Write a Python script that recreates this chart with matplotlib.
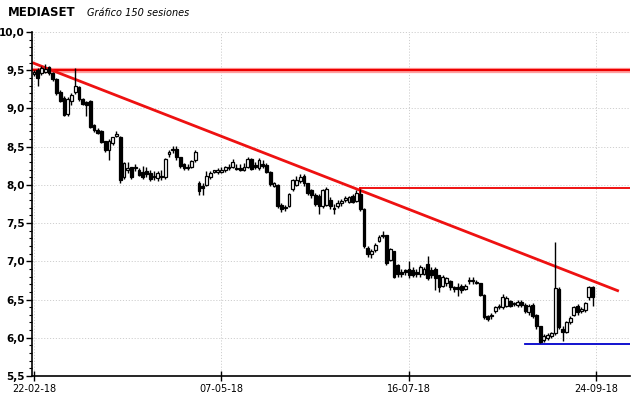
import numpy as np
import matplotlib.pyplot as plt
from matplotlib.ticker import MultipleLocator, FuncFormatter

# OHLC (150 sesiones)
opens = [9.45, 9.50, 9.46, 9.48, 9.54, 9.46, 9.38, 9.22, 9.14, 8.93,
         9.10, 9.21, 9.28, 9.12, 9.08, 9.10, 8.78, 8.72, 8.70, 8.57,
         8.45, 8.55, 8.64, 8.63, 8.10, 8.20, 8.23, 8.22, 8.19, 8.17,
         8.18, 8.16, 8.12, 8.09, 8.12, 8.10, 8.40, 8.45, 8.47, 8.36,
         8.27, 8.22, 8.24, 8.33, 8.03, 7.99, 8.00, 8.10, 8.17, 8.17,
         8.17, 8.19, 8.22, 8.24, 8.22, 8.22, 8.20, 8.24, 8.34, 8.26,
         8.22, 8.27, 8.26, 8.17, 7.99, 8.00, 7.74, 7.71, 7.73, 7.94,
         8.00, 8.05, 8.12, 8.02, 7.93, 7.87, 7.85, 7.72, 7.74, 7.80,
         7.70, 7.72, 7.76, 7.80, 7.78, 7.85, 7.79, 7.88, 7.69, 7.18,
         7.10, 7.15, 7.27, 7.33, 7.34, 7.02, 7.13, 6.95, 6.86, 6.88,
         6.90, 6.88, 6.86, 6.83, 6.84, 6.97, 6.88, 6.90, 6.82, 6.68,
         6.72, 6.74, 6.66, 6.66, 6.68, 6.64, 6.74, 6.74, 6.72, 6.71,
         6.56, 6.28, 6.29, 6.35, 6.40, 6.40, 6.42, 6.48, 6.45, 6.43,
         6.47, 6.43, 6.34, 6.43, 6.30, 6.15, 5.97, 6.00, 6.02, 6.06,
         6.64, 6.12, 6.08, 6.20, 6.30, 6.42, 6.35, 6.36, 6.53, 6.66]
highs = [9.50, 9.53, 9.55, 9.58, 9.56, 9.48, 9.40, 9.24, 9.16, 9.15,
         9.20, 9.53, 9.30, 9.14, 9.10, 9.11, 8.80, 8.74, 8.72, 8.58,
         8.60, 8.63, 8.70, 8.64, 8.30, 8.30, 8.24, 8.27, 8.22, 8.25,
         8.24, 8.19, 8.18, 8.18, 8.20, 8.35, 8.45, 8.51, 8.51, 8.37,
         8.29, 8.27, 8.33, 8.45, 8.05, 8.02, 8.18, 8.18, 8.20, 8.22,
         8.24, 8.25, 8.27, 8.34, 8.27, 8.27, 8.28, 8.36, 8.35, 8.30,
         8.35, 8.33, 8.28, 8.18, 8.04, 8.01, 7.76, 7.74, 7.90, 8.08,
         8.11, 8.14, 8.14, 8.03, 7.95, 7.90, 7.88, 7.95, 7.97, 7.84,
         7.75, 7.80, 7.82, 7.86, 7.86, 7.88, 7.93, 7.95, 7.70, 7.20,
         7.16, 7.24, 7.35, 7.40, 7.35, 7.18, 7.14, 6.97, 6.90, 6.90,
         7.00, 6.92, 6.90, 6.95, 6.93, 7.07, 6.92, 6.92, 6.82, 6.82,
         6.80, 6.76, 6.68, 6.72, 6.70, 6.70, 6.79, 6.79, 6.76, 6.72,
         6.57, 6.30, 6.33, 6.42, 6.44, 6.57, 6.55, 6.50, 6.47, 6.49,
         6.50, 6.45, 6.44, 6.45, 6.31, 6.16, 6.05, 6.06, 6.08, 7.25,
         6.66, 6.15, 6.22, 6.28, 6.42, 6.44, 6.40, 6.47, 6.68, 6.68]
lows = [9.42, 9.30, 9.44, 9.46, 9.44, 9.36, 9.18, 9.08, 8.90, 8.90,
        9.05, 9.19, 9.10, 9.04, 8.90, 8.74, 8.69, 8.66, 8.55, 8.43,
        8.32, 8.52, 8.62, 8.03, 8.08, 8.15, 8.08, 8.18, 8.11, 8.08,
        8.10, 8.05, 8.06, 8.05, 8.06, 8.08, 8.36, 8.42, 8.33, 8.22,
        8.19, 8.20, 8.22, 8.30, 7.87, 7.87, 7.98, 8.08, 8.15, 8.14,
        8.16, 8.17, 8.19, 8.22, 8.19, 8.18, 8.18, 8.22, 8.20, 8.21,
        8.20, 8.22, 8.15, 7.99, 7.97, 7.70, 7.65, 7.66, 7.71, 7.92,
        7.98, 8.03, 7.98, 7.87, 7.83, 7.72, 7.62, 7.70, 7.72, 7.68,
        7.62, 7.70, 7.73, 7.78, 7.76, 7.76, 7.78, 7.66, 7.17, 7.06,
        7.05, 7.12, 7.25, 7.30, 6.95, 7.00, 6.78, 6.80, 6.80, 6.82,
        6.78, 6.80, 6.80, 6.80, 6.82, 6.76, 6.78, 6.62, 6.60, 6.66,
        6.68, 6.62, 6.60, 6.55, 6.58, 6.62, 6.70, 6.70, 6.70, 6.55,
        6.24, 6.22, 6.24, 6.33, 6.37, 6.38, 6.40, 6.40, 6.42, 6.40,
        6.40, 6.33, 6.30, 6.26, 6.12, 5.93, 5.95, 5.97, 6.00, 6.03,
        6.12, 5.96, 6.06, 6.18, 6.28, 6.30, 6.33, 6.34, 6.50, 6.42]
closes = [9.48, 9.40, 9.53, 9.52, 9.46, 9.38, 9.20, 9.10, 8.92, 9.12,
          9.18, 9.29, 9.12, 9.06, 9.04, 8.76, 8.72, 8.68, 8.56, 8.45,
          8.58, 8.62, 8.66, 8.07, 8.28, 8.22, 8.10, 8.24, 8.13, 8.10,
          8.14, 8.08, 8.10, 8.15, 8.10, 8.34, 8.43, 8.47, 8.36, 8.25,
          8.22, 8.24, 8.31, 8.43, 7.92, 7.96, 8.12, 8.15, 8.19, 8.20,
          8.19, 8.23, 8.24, 8.30, 8.21, 8.20, 8.24, 8.34, 8.21, 8.23,
          8.33, 8.25, 8.17, 8.01, 8.02, 7.72, 7.68, 7.70, 7.88, 8.06,
          8.06, 8.10, 8.02, 7.90, 7.87, 7.75, 7.72, 7.93, 7.95, 7.72,
          7.68, 7.76, 7.79, 7.83, 7.84, 7.78, 7.90, 7.69, 7.20, 7.10,
          7.14, 7.22, 7.32, 7.35, 6.98, 7.16, 6.80, 6.84, 6.84, 6.86,
          6.82, 6.82, 6.84, 6.93, 6.90, 6.78, 6.82, 6.78, 6.66, 6.80,
          6.78, 6.66, 6.64, 6.64, 6.62, 6.68, 6.75, 6.75, 6.73, 6.56,
          6.27, 6.25, 6.30, 6.40, 6.41, 6.53, 6.52, 6.42, 6.44, 6.47,
          6.43, 6.35, 6.42, 6.29, 6.15, 5.95, 6.02, 6.04, 6.06, 6.65,
          6.14, 6.08, 6.20, 6.26, 6.40, 6.34, 6.37, 6.45, 6.66, 6.53]

date_ticks = [0, 50, 100, 150]
date_labels = ["22-02-18", "07-05-18", "16-07-18", "24-09-18"]

# lineas dibujadas: directriz bajista, resistencias y soporte
trend_x = [-0.5, 156]
trend_y = [9.60, 6.61]
resist_top = 9.50
resist_mid = 7.955
resist_mid_start = 87
support = 5.925
support_start = 131


def main():
    o = np.array(opens)
    h = np.array(highs)
    l = np.array(lows)
    c = np.array(closes)
    x = np.arange(len(c))

    fig = plt.figure(figsize=(6.4, 3.98), dpi=100)
    ax = fig.add_axes([0.05, 0.0553, 0.934, 0.8643])

    # grid punteado
    grid_kw = dict(color="#cfcfcf", linestyle=(0, (1.2, 1.8)), linewidth=0.7, zorder=0)
    for yv in np.arange(5.5, 10.01, 0.5):
        ax.axhline(yv, **grid_kw)
    for xv in date_ticks:
        ax.axvline(xv, **grid_kw)

    # lineas rojas / azul
    ax.axhline(resist_top, color="#ffa0a0", linewidth=3.8, zorder=2)
    ax.axhline(resist_top, color="#ee0000", linewidth=1.6, zorder=2)
    ax.plot(trend_x, trend_y, color="#ee1111", linewidth=2, zorder=2, solid_capstyle="butt")
    ax.plot([resist_mid_start, 170], [resist_mid, resist_mid], color="#ee0000", linewidth=1.3, zorder=2)
    ax.plot([resist_mid_start, resist_mid_start], [resist_mid, resist_mid - 0.07],
            color="#ee0000", linewidth=1.3, zorder=2)
    ax.plot([support_start, 170], [support, support], color="#0000cc", linewidth=1.3, zorder=2)

    # velas
    ax.vlines(x, l, h, color="black", linewidth=1, zorder=3)
    up = c >= o
    body_lo = np.minimum(o, c)
    body_h = np.maximum(np.abs(c - o), 0.012)
    ax.bar(x[up], body_h[up], bottom=body_lo[up], width=0.75, color="white",
           edgecolor="black", linewidth=0.9, zorder=4)
    ax.bar(x[~up], body_h[~up], bottom=body_lo[~up], width=0.75, color="black",
           edgecolor="black", linewidth=0.9, zorder=4)

    ax.set_xlim(-0.533, 158.9)
    ax.set_ylim(5.5, 10.0)

    ax.yaxis.set_major_locator(MultipleLocator(0.5))
    ax.yaxis.set_minor_locator(MultipleLocator(0.1))
    ax.yaxis.set_major_formatter(FuncFormatter(lambda v, p: f"{v:.1f}".replace(".", ",")))
    ax.set_xticks(date_ticks)
    ax.set_xticklabels(date_labels)

    ax.tick_params(axis="y", which="major", length=4, width=1, labelsize=7.5, pad=1)
    ax.tick_params(axis="y", which="minor", length=2, width=0.8)
    ax.tick_params(axis="x", which="major", length=7, width=1, direction="inout", labelsize=7, pad=2)
    for lab in ax.get_yticklabels():
        lab.set_fontweight("bold")

    for s in ["top", "right"]:
        ax.spines[s].set_visible(False)
    ax.spines["left"].set_linewidth(1.2)
    ax.spines["bottom"].set_linewidth(1.2)

    fig.text(0.0125, 0.968, "MEDIASET", fontsize=8.5, fontweight="bold", va="center")
    fig.text(0.136, 0.968, "Gráfico 150 sesiones", fontsize=7, style="italic", va="center")

    fig.savefig("out.png", dpi=100)
    plt.close(fig)


if __name__ == "__main__":
    main()
